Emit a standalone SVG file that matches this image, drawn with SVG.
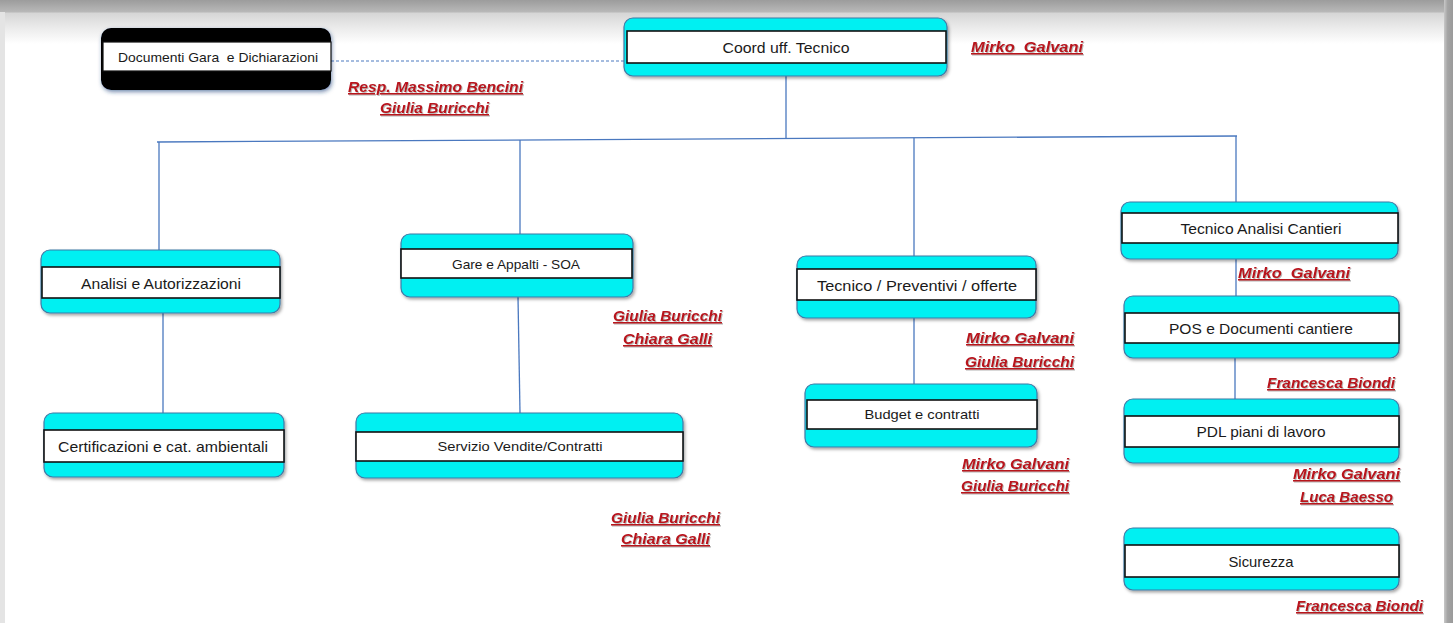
<svg xmlns="http://www.w3.org/2000/svg" width="1453" height="623" viewBox="0 0 1453 623">
<defs>
<linearGradient id="topg" x1="0" y1="0" x2="0" y2="1">
<stop offset="0" stop-color="#9c9c9c"/>
<stop offset="0.27" stop-color="#b8b8b8"/>
<stop offset="0.3" stop-color="#d6d6d6"/>
<stop offset="0.65" stop-color="#ececec"/>
<stop offset="1" stop-color="#ffffff"/>
</linearGradient>
<linearGradient id="rightg" x1="0" y1="0" x2="1" y2="0">
<stop offset="0" stop-color="#c8c8c8"/>
<stop offset="0.4" stop-color="#a4a4a4"/>
<stop offset="1" stop-color="#9a9a9a"/>
</linearGradient>
<filter id="sh" x="-10%" y="-20%" width="120%" height="150%">
<feDropShadow dx="1.5" dy="2" stdDeviation="1.6" flood-color="#000" flood-opacity="0.35"/>
</filter>
<filter id="shb" x="-10%" y="-20%" width="120%" height="150%">
<feDropShadow dx="1" dy="2" stdDeviation="2" flood-color="#1d3f7a" flood-opacity="0.6"/>
</filter>
<filter id="tsh" x="-5%" y="-20%" width="110%" height="150%">
<feDropShadow dx="1" dy="1" stdDeviation="0.6" flood-color="#666" flood-opacity="0.45"/>
</filter>
</defs>
<style>
.outer{fill:#00f0f2;stroke:#3f7aa6;stroke-width:1.2}
.inner{fill:#ffffff;stroke:#111;stroke-width:1.6}
.t{font-family:"Liberation Sans",Arial,sans-serif;font-size:15px;fill:#1a1a1a;text-anchor:middle}
.ts{font-size:13px}
.r{font-family:"Liberation Sans",Arial,sans-serif;font-size:15.5px;font-weight:bold;font-style:italic;fill:#b8121c;text-decoration:underline;filter:url(#tsh)}
.c{stroke:#4a78bf;stroke-width:1.3;fill:none}
</style>
<rect x="0" y="0" width="1453" height="623" fill="#ffffff"/>
<rect x="0" y="0" width="1453" height="44" fill="url(#topg)"/>
<rect x="0" y="12" width="5" height="611" fill="#e4e4e4"/>
<rect x="1444" y="0" width="9" height="623" fill="url(#rightg)"/>

<g id="connectors">
<line class="c" x1="331" y1="61" x2="625" y2="61" stroke-dasharray="3 2" style="stroke-width:1"/>
<line class="c" x1="786" y1="76" x2="786" y2="138.5"/>
<line class="c" x1="157" y1="142" x2="1237" y2="136"/>
<line class="c" x1="159" y1="142" x2="159" y2="250"/>
<line class="c" x1="163" y1="313" x2="163" y2="413"/>
<line class="c" x1="520" y1="140" x2="520" y2="234"/>
<line class="c" x1="518" y1="297" x2="520" y2="413"/>
<line class="c" x1="914" y1="137.8" x2="914" y2="256"/>
<line class="c" x1="914" y1="318" x2="914" y2="384"/>
<line class="c" x1="1236" y1="136" x2="1236" y2="202"/>
<line class="c" x1="1236" y1="259" x2="1236" y2="296"/>
<line class="c" x1="1235" y1="358" x2="1235" y2="399"/>
</g>

<g id="node-documenti">
<rect x="101" y="28" width="230" height="62" rx="10" fill="#000" filter="url(#shb)"/>
<rect x="103" y="42" width="228" height="29" fill="#fff" stroke="#111" stroke-width="1.2"/>
<text class="t ts" x="218" y="61.5" textLength="200" lengthAdjust="spacingAndGlyphs" xml:space="preserve">Documenti Gara  e Dichiarazioni</text>
</g>

<g id="node-coord">
<rect class="outer" x="624" y="18" width="323" height="58" rx="9" filter="url(#sh)"/>
<rect class="inner" x="627" y="31" width="319" height="32"/>
<text class="t" x="786" y="52.5" textLength="127" lengthAdjust="spacingAndGlyphs">Coord uff. Tecnico</text>
</g>

<g id="node-analisi">
<rect class="outer" x="41" y="250" width="239" height="63" rx="9" filter="url(#sh)"/>
<rect class="inner" x="42" y="267" width="238" height="31"/>
<text class="t" x="161" y="288.5" textLength="160" lengthAdjust="spacingAndGlyphs">Analisi e Autorizzazioni</text>
</g>

<g id="node-certificazioni">
<rect class="outer" x="44" y="413" width="240" height="64" rx="9" filter="url(#sh)"/>
<rect class="inner" x="44" y="430" width="240" height="32"/>
<text class="t" x="163" y="451.5" textLength="210" lengthAdjust="spacingAndGlyphs">Certificazioni e cat. ambientali</text>
</g>

<g id="node-gare">
<rect class="outer" x="401" y="234" width="232" height="63" rx="9" filter="url(#sh)"/>
<rect class="inner" x="401" y="249" width="231" height="29"/>
<text class="t ts" x="516" y="268.5" textLength="128" lengthAdjust="spacingAndGlyphs">Gare e Appalti - SOA</text>
</g>

<g id="node-servizio">
<rect class="outer" x="356" y="413" width="327" height="65" rx="9" filter="url(#sh)"/>
<rect class="inner" x="356" y="432" width="327" height="29"/>
<text class="t ts" x="520" y="450.5" textLength="165" lengthAdjust="spacingAndGlyphs">Servizio Vendite/Contratti</text>
</g>

<g id="node-tecnico-preventivi">
<rect class="outer" x="797" y="256" width="239" height="62" rx="9" filter="url(#sh)"/>
<rect class="inner" x="797" y="269" width="239" height="31"/>
<text class="t" x="917" y="290.5" textLength="200" lengthAdjust="spacingAndGlyphs">Tecnico / Preventivi / offerte</text>
</g>

<g id="node-budget">
<rect class="outer" x="805" y="384" width="232" height="63" rx="9" filter="url(#sh)"/>
<rect class="inner" x="807" y="400" width="230" height="29"/>
<text class="t ts" x="922" y="419" textLength="115" lengthAdjust="spacingAndGlyphs">Budget e contratti</text>
</g>

<g id="node-tecnico-analisi">
<rect class="outer" x="1121" y="202" width="277" height="57" rx="9" filter="url(#sh)"/>
<rect class="inner" x="1122" y="213" width="276" height="30"/>
<text class="t" x="1261" y="233.5" textLength="161" lengthAdjust="spacingAndGlyphs">Tecnico Analisi Cantieri</text>
</g>

<g id="node-pos">
<rect class="outer" x="1124" y="296" width="275" height="62" rx="9" filter="url(#sh)"/>
<rect class="inner" x="1125" y="313" width="274" height="30"/>
<text class="t" x="1261" y="333.5" textLength="184" lengthAdjust="spacingAndGlyphs">POS e Documenti cantiere</text>
</g>

<g id="node-pdl">
<rect class="outer" x="1124" y="399" width="275" height="64" rx="9" filter="url(#sh)"/>
<rect class="inner" x="1125" y="416" width="274" height="31"/>
<text class="t" x="1261" y="436.5" textLength="129" lengthAdjust="spacingAndGlyphs">PDL piani di lavoro</text>
</g>

<g id="node-sicurezza">
<rect class="outer" x="1124" y="528" width="275" height="62" rx="9" filter="url(#sh)"/>
<rect class="inner" x="1125" y="545" width="274" height="32"/>
<text class="t" x="1261" y="566.5" textLength="65" lengthAdjust="spacingAndGlyphs">Sicurezza</text>
</g>

<g id="labels">
<text class="r" x="348" y="92" textLength="175" lengthAdjust="spacingAndGlyphs">Resp. Massimo Bencini</text>
<text class="r" x="380" y="113" textLength="109" lengthAdjust="spacingAndGlyphs">Giulia Buricchi</text>
<text class="r" x="971" y="52" textLength="112" lengthAdjust="spacingAndGlyphs" xml:space="preserve">Mirko  Galvani</text>
<text class="r" x="613" y="321" textLength="109" lengthAdjust="spacingAndGlyphs">Giulia Buricchi</text>
<text class="r" x="623" y="344" textLength="89" lengthAdjust="spacingAndGlyphs">Chiara Galli</text>
<text class="r" x="611" y="523" textLength="109" lengthAdjust="spacingAndGlyphs">Giulia Buricchi</text>
<text class="r" x="621" y="544" textLength="89" lengthAdjust="spacingAndGlyphs">Chiara Galli</text>
<text class="r" x="966" y="343" textLength="108" lengthAdjust="spacingAndGlyphs">Mirko Galvani</text>
<text class="r" x="965" y="367" textLength="109" lengthAdjust="spacingAndGlyphs">Giulia Buricchi</text>
<text class="r" x="962" y="469" textLength="107" lengthAdjust="spacingAndGlyphs">Mirko Galvani</text>
<text class="r" x="961" y="491" textLength="108" lengthAdjust="spacingAndGlyphs">Giulia Buricchi</text>
<text class="r" x="1238" y="278" textLength="112" lengthAdjust="spacingAndGlyphs" xml:space="preserve">Mirko  Galvani</text>
<text class="r" x="1267" y="388" textLength="128" lengthAdjust="spacingAndGlyphs">Francesca Biondi</text>
<text class="r" x="1293" y="479" textLength="107" lengthAdjust="spacingAndGlyphs">Mirko Galvani</text>
<text class="r" x="1300" y="502" textLength="93" lengthAdjust="spacingAndGlyphs">Luca Baesso</text>
<text class="r" x="1296" y="611" textLength="127" lengthAdjust="spacingAndGlyphs">Francesca Biondi</text>
</g>
</svg>
